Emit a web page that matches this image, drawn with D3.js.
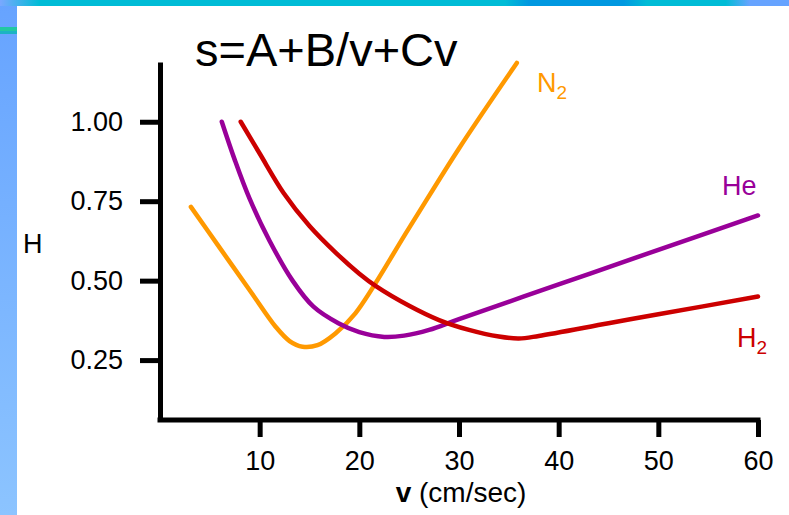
<!DOCTYPE html>
<html>
<head>
<meta charset="utf-8">
<script src="https://cdn.jsdelivr.net/npm/d3@7"></script>
<style>
  body { margin: 0; background: #fff; }
  svg { display: block; font-family: "Liberation Sans", Arial, sans-serif; }
</style>
</head>
<body>
<script>
"use strict";

// data: [v (cm/sec), H]
let n2 = [[3.1, 0.732], [6, 0.603], [9, 0.47], [11.6, 0.355], [13, 0.31], [14.3, 0.292],
          [15.8, 0.297], [17.6, 0.334], [19.6, 0.397], [25, 0.666], [30, 0.916], [35.8, 1.185]];
let he = [[6.2, 1.0], [7.5, 0.88], [9, 0.757], [11, 0.625], [13.3, 0.5], [15.4, 0.418],
          [17.9, 0.366], [20, 0.338], [22.5, 0.323], [24.5, 0.327], [27, 0.345], [30, 0.379],
          [40, 0.488], [50, 0.597], [60, 0.705]];
let h2 = [[8.1, 1.0], [10, 0.9], [12.4, 0.776], [15, 0.672], [17.7, 0.586], [20, 0.522],
          [21.7, 0.482], [25, 0.421], [28, 0.376], [31, 0.345], [34, 0.324], [36, 0.318],
          [38, 0.326], [45, 0.366], [50, 0.394], [60, 0.45]];
let xTicks = [10, 20, 30, 40, 50, 60];
let yTicks = [0.25, 0.5, 0.75, 1.0];

let width = 789, height = 515;

let svg = d3.select("body").append("svg")
    .attr("width", width)
    .attr("height", height);

// slide decoration
let defs = svg.append("defs");
let lg = defs.append("linearGradient").attr("id", "leftband")
    .attr("x1", "0%").attr("y1", "0%").attr("x2", "0%").attr("y2", "100%");
lg.append("stop").attr("offset", 0).attr("stop-color", "#66a3ff");
lg.append("stop").attr("offset", 1).attr("stop-color", "#8cc4ff");
let tg = defs.append("linearGradient").attr("id", "topband")
    .attr("x1", "0%").attr("y1", "0%").attr("x2", "100%").attr("y2", "0%");
[[0, "#7aa8ff"], [0.05, "#00bcd6"], [0.64, "#00bcd6"], [0.67, "#0098e0"], [0.79, "#0098e0"],
 [0.82, "#00bcd6"], [0.92, "#00bcd6"], [0.95, "#66a3ff"], [1, "#66a3ff"]].forEach(function(s) {
    tg.append("stop").attr("offset", s[0]).attr("stop-color", s[1]);
});
svg.append("rect").attr("x", 0).attr("y", 0).attr("width", 17).attr("height", height)
    .attr("fill", "url(#leftband)");
svg.append("rect").attr("x", 0).attr("y", 0).attr("width", width).attr("height", 6)
    .attr("fill", "url(#topband)");
svg.append("rect").attr("x", 0).attr("y", 27).attr("width", 17).attr("height", 4).attr("fill", "#22c8a2");
svg.append("rect").attr("x", 0).attr("y", 31).attr("width", 17).attr("height", 3).attr("fill", "#1cb3c4");

// scales
let x = d3.scaleLinear().domain([0, 60]).range([160, 758]);
let y = d3.scaleLinear().domain([0.0615, 1.188]).range([420, 62]);

// y axis
let yAxis = svg.append("g")
    .attr("transform", "translate(160,0)")
    .call(d3.axisLeft(y).tickValues(yTicks).tickFormat(d3.format(".2f"))
          .tickSize(20).tickSizeOuter(0).tickPadding(17));
yAxis.select(".domain").attr("stroke", "#000").attr("stroke-width", 5);
yAxis.selectAll(".tick line").attr("stroke", "#000").attr("stroke-width", 5);
yAxis.selectAll(".tick text").attr("font-size", 27).attr("fill", "#000")
    .attr("font-family", "Liberation Sans, Arial, sans-serif");

// x axis
let xAxis = svg.append("g")
    .attr("transform", "translate(0,420)")
    .call(d3.axisBottom(x).tickValues(xTicks)
          .tickSize(17).tickSizeOuter(0).tickPadding(14));
xAxis.select(".domain").attr("stroke", "#000").attr("stroke-width", 5)
    .attr("d", "M157.5,0H760.5");
xAxis.selectAll(".tick line").attr("stroke", "#000").attr("stroke-width", 5);
xAxis.selectAll(".tick text").attr("font-size", 27).attr("fill", "#000")
    .attr("font-family", "Liberation Sans, Arial, sans-serif");

// axis titles
svg.append("text")
    .attr("x", 23).attr("y", 253)
    .attr("font-size", 27)
    .text("H");
let xt = svg.append("text")
    .attr("x", 461).attr("y", 502)
    .attr("text-anchor", "middle")
    .attr("font-size", 28);
xt.append("tspan").attr("font-weight", "bold").text("v");
xt.append("tspan").text(" (cm/sec)");

// title
svg.append("text")
    .attr("x", 195).attr("y", 66)
    .attr("font-size", 47)
    .text("s=A+B/v+Cv");

// curves
let line = d3.line()
    .x(d => x(d[0]))
    .y(d => y(d[1]))
    .curve(d3.curveCatmullRom.alpha(0.5));

let series = [
    { name: "N", sub: "2", data: n2, color: "#ff9900", lx: 537, ly: 92 },
    { name: "He", sub: "", data: he, color: "#990099", lx: 722, ly: 195 },
    { name: "H", sub: "2", data: h2, color: "#cc0000", lx: 737, ly: 347 }
];

series.forEach(function(s) {
    svg.append("path")
        .datum(s.data)
        .attr("d", line)
        .attr("fill", "none")
        .attr("stroke", s.color)
        .attr("stroke-width", 4.5)
        .attr("stroke-linecap", "round")
        .attr("stroke-linejoin", "round");

    let t = svg.append("text")
        .attr("x", s.lx).attr("y", s.ly)
        .attr("font-size", 27)
        .attr("fill", s.color)
        .text(s.name);
    if (s.sub) {
        t.append("tspan").attr("dy", 7).attr("font-size", 19).text(s.sub);
    }
});
</script>
</body>
</html>
